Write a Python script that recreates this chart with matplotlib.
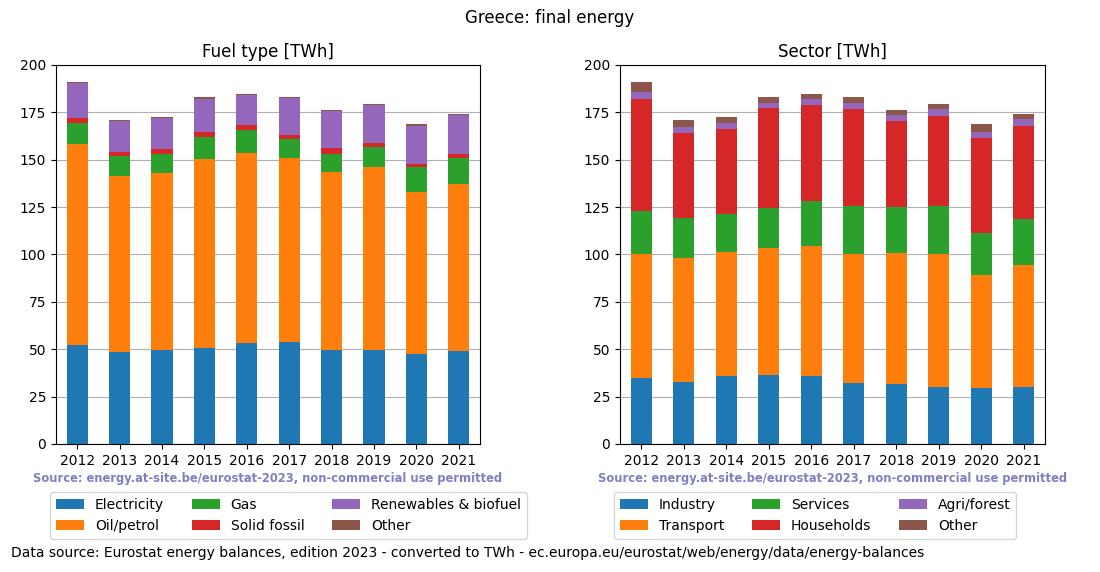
import matplotlib
matplotlib.use("Agg")
import matplotlib.pyplot as plt
import numpy as np

years = ["2012", "2013", "2014", "2015", "2016", "2017", "2018", "2019", "2020", "2021"]

fuel_labels = ["Electricity", "Oil/petrol", "Gas", "Solid fossil", "Renewables & biofuel", "Other"]
electricity = [52.2, 48.5, 49.8, 50.8, 53.3, 53.8, 49.8, 49.8, 47.7, 49.1]
oil_petrol = [106.1, 92.9, 93.2, 99.4, 100.3, 97.1, 93.7, 96.4, 85.3, 88.1]
gas = [11.1, 10.6, 10.0, 11.8, 12.3, 10.0, 9.5, 10.5, 13.2, 13.7]
solid_fossil = [2.6, 2.1, 2.7, 2.6, 2.4, 2.2, 3.2, 2.1, 1.6, 2.1]
renewables = [18.5, 16.3, 16.3, 17.5, 15.9, 19.5, 19.5, 20.1, 20.0, 20.6]
fuel_other = [0.5, 0.6, 0.6, 1.0, 0.5, 0.5, 0.6, 0.5, 1.1, 0.5]

sector_labels = ["Industry", "Transport", "Services", "Households", "Agri/forest", "Other"]
industry = [34.8, 32.7, 35.9, 36.4, 35.9, 32.2, 31.7, 30.1, 29.6, 30.1]
transport = [65.3, 65.5, 65.4, 67.0, 68.6, 67.9, 69.1, 70.0, 59.6, 64.4]
services = [22.9, 21.1, 20.1, 21.3, 23.7, 25.5, 24.3, 25.5, 22.1, 24.2]
households = [59.1, 44.8, 44.8, 52.6, 50.7, 51.2, 45.3, 47.5, 50.2, 49.1]
agri_forest = [3.7, 3.2, 3.2, 2.6, 3.2, 3.1, 3.2, 3.7, 3.1, 3.7]
sector_other = [5.2, 3.7, 3.2, 3.2, 2.6, 3.2, 2.7, 2.6, 4.3, 2.6]

colors = ["#1f77b4", "#ff7f0e", "#2ca02c", "#d62728", "#9467bd", "#8c564b"]

fig = plt.figure(figsize=(11, 5.72), dpi=100)
ax1 = fig.add_axes([0.0509, 0.2238, 0.3855, 0.6626])
ax2 = fig.add_axes([0.5636, 0.2238, 0.3864, 0.6626])

def stacked(ax, series, labels, title):
    x = np.arange(len(years))
    bottom = np.zeros(len(years))
    for vals, lab, c in zip(series, labels, colors):
        v = np.array(vals)
        ax.bar(x, v, 0.5, bottom=bottom, color=c, label=lab, zorder=2)
        bottom += v
    ax.set_xticks(x)
    ax.set_xticklabels(years)
    ax.set_xlim(-0.5, len(years) - 0.5)
    ax.set_ylim(0, 200)
    ax.set_yticks(np.arange(0, 201, 25))
    ax.yaxis.grid(True, color="#b0b0b0", zorder=0)
    ax.set_axisbelow(True)
    ax.set_title(title, fontsize=12)
    ax.text(0.5, -0.09, "Source: energy.at-site.be/eurostat-2023, non-commercial use permitted",
            transform=ax.transAxes, ha="center", va="center", fontsize=8.3,
            fontweight="bold", color="#7f7fc4")
    ax.legend(loc="upper left", bbox_to_anchor=(-0.0130, -0.128), ncol=3, fontsize=10,
              handlelength=2, columnspacing=2.0, borderaxespad=0)

stacked(ax1, [electricity, oil_petrol, gas, solid_fossil, renewables, fuel_other],
        fuel_labels, "Fuel type [TWh]")
stacked(ax2, [industry, transport, services, households, agri_forest, sector_other],
        sector_labels, "Sector [TWh]")

fig.suptitle("Greece: final energy", y=0.985, fontsize=12)
fig.text(0.01, 0.033, "Data source: Eurostat energy balances, edition 2023 - converted to TWh - ec.europa.eu/eurostat/web/energy/data/energy-balances",
         fontsize=10, ha="left", va="center")

fig.savefig("out.png", dpi=100)
